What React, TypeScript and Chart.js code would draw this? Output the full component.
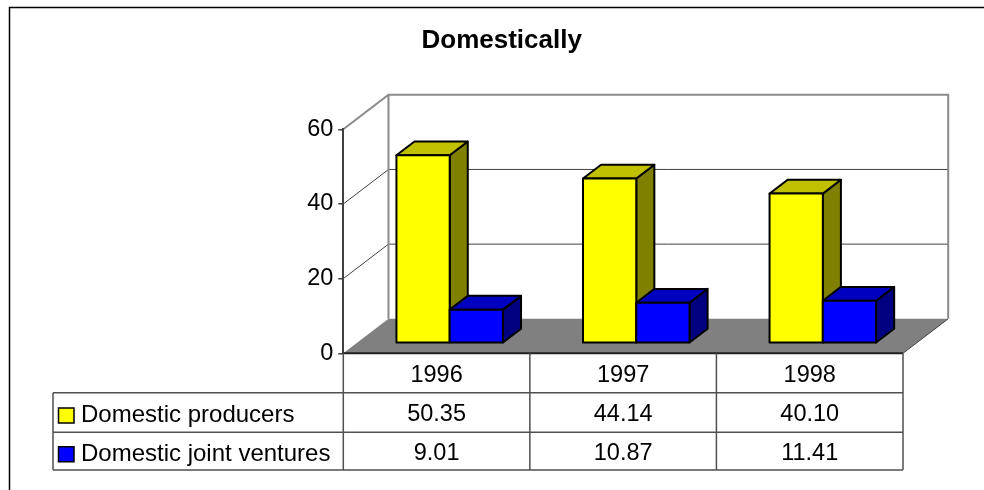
import React, { useEffect, useRef } from 'react';
import { Chart, registerables } from 'chart.js';

Chart.register(...registerables);

// ---- data ----
const categories = ['1996', '1997', '1998'];
const seriesNames = ['Domestic producers', 'Domestic joint ventures'];
const domesticProducers = [50.35, 44.14, 40.1];
const domesticJointVentures = [9.01, 10.87, 11.41];
const yMin = 0;
const yMax = 60;
const yStep = 20;
const chartTitle = 'Domestically';

// ---- styling ----
const FONT = '"Liberation Sans", Arial, Helvetica, sans-serif';
const FS = 23.5;
const faceColors = [
  { front: '#FFFF00', top: '#C0C000', side: '#808000' },
  { front: '#0000FF', top: '#0000C0', side: '#000080' },
];
const DX = 45.2; // full depth offset (x)
const DY = -34.5; // full depth offset (y)
const F0 = 0.29; // bar front depth fraction
const TH = 0.4; // bar thickness fraction
const ROW_OFF = [0, 39.4, 79, 116.7];
const LEGEND_LEFT = 53;

const scene3d = {
  id: 'scene3d',
  beforeDraw(chart: any) {
    const ctx = chart.ctx as CanvasRenderingContext2D;
    const ca = chart.chartArea;
    const ys = chart.scales.y;
    const L = ca.left, R = ca.right, B = ca.bottom;
    ctx.save();
    // outer frame
    ctx.strokeStyle = '#000';
    ctx.lineWidth = 1.5;
    ctx.strokeRect(9.5, 7.5, 1400, 900);
    // floor
    ctx.fillStyle = '#808080';
    ctx.beginPath();
    ctx.moveTo(L, B);
    ctx.lineTo(L + DX, B + DY);
    ctx.lineTo(R + DX, B + DY);
    ctx.lineTo(R, B);
    ctx.closePath();
    ctx.fill();
    ctx.strokeStyle = '#404040';
    ctx.lineWidth = 1;
    ctx.beginPath();
    ctx.moveTo(R + DX, B + DY);
    ctx.lineTo(R, B);
    ctx.stroke();
    // gridlines (side wall + back wall)
    for (const t of ys.ticks) {
      if (t.value === yMin || t.value === yMax) continue;
      const py = ys.getPixelForValue(t.value);
      ctx.strokeStyle = '#404040';
      ctx.lineWidth = 1;
      ctx.beginPath();
      ctx.moveTo(L, py);
      ctx.lineTo(L + DX, py + DY);
      ctx.lineTo(R + DX, py + DY);
      ctx.stroke();
    }
    // wall edges
    const pTop = ys.getPixelForValue(yMax);
    ctx.strokeStyle = '#8a8a8a';
    ctx.lineWidth = 2;
    ctx.beginPath();
    ctx.moveTo(L, pTop);
    ctx.lineTo(L + DX, pTop + DY);
    ctx.lineTo(R + DX, pTop + DY);
    ctx.lineTo(R + DX, B + DY);
    ctx.moveTo(L + DX, pTop + DY);
    ctx.lineTo(L + DX, B + DY);
    ctx.stroke();
    ctx.restore();
  },
  beforeDatasetsDraw(chart: any) {
    const ctx = chart.ctx as CanvasRenderingContext2D;
    const n = categories.length;
    const ox0 = F0 * DX, oy0 = F0 * DY;
    const ox = TH * DX, oy = TH * DY;
    ctx.save();
    ctx.lineWidth = 2;
    ctx.lineJoin = 'round';
    ctx.strokeStyle = '#000';
    for (let i = 0; i < n; i++) {
      for (let d = 0; d < chart.data.datasets.length; d++) {
        const el = chart.getDatasetMeta(d).data[i];
        if (!el) continue;
        const p = el.getProps(['x', 'y', 'base', 'width'], true);
        const l = p.x - p.width / 2 + ox0;
        const r = p.x + p.width / 2 + ox0;
        const t = p.y + oy0;
        const b = p.base + oy0;
        const c = faceColors[d];
        // side
        ctx.fillStyle = c.side;
        ctx.beginPath();
        ctx.moveTo(r, t);
        ctx.lineTo(r + ox, t + oy);
        ctx.lineTo(r + ox, b + oy);
        ctx.lineTo(r, b);
        ctx.closePath();
        ctx.fill();
        ctx.stroke();
        // top
        ctx.fillStyle = c.top;
        ctx.beginPath();
        ctx.moveTo(l, t);
        ctx.lineTo(r, t);
        ctx.lineTo(r + ox, t + oy);
        ctx.lineTo(l + ox, t + oy);
        ctx.closePath();
        ctx.fill();
        ctx.stroke();
        // front
        ctx.fillStyle = c.front;
        ctx.beginPath();
        ctx.rect(l, t, r - l, b - t);
        ctx.fill();
        ctx.stroke();
      }
    }
    ctx.restore();
    return false;
  },
  afterDraw(chart: any) {
    const ctx = chart.ctx as CanvasRenderingContext2D;
    const ca = chart.chartArea;
    const xs = chart.scales.x;
    const L = ca.left, R = ca.right, B = ca.bottom;
    const n = categories.length;
    const cw = (R - L) / n;
    const rows = ROW_OFF.map((o) => B + o);
    ctx.save();
    // floor front edge / table top
    ctx.strokeStyle = '#202020';
    ctx.lineWidth = 2;
    ctx.beginPath();
    ctx.moveTo(L, rows[0]);
    ctx.lineTo(R, rows[0]);
    ctx.stroke();
    ctx.strokeStyle = '#505050';
    ctx.lineWidth = 1.5;
    ctx.beginPath();
    for (let r = 1; r < rows.length; r++) {
      ctx.moveTo(LEGEND_LEFT, rows[r]);
      ctx.lineTo(R, rows[r]);
    }
    for (let k = 0; k <= n; k++) {
      const x = L + k * cw;
      ctx.moveTo(x, rows[0]);
      ctx.lineTo(x, rows[rows.length - 1]);
    }
    ctx.moveTo(LEGEND_LEFT, rows[1]);
    ctx.lineTo(LEGEND_LEFT, rows[rows.length - 1]);
    ctx.stroke();

    // values
    const series = [domesticProducers, domesticJointVentures];
    ctx.fillStyle = '#000';
    ctx.font = `${FS}px ${FONT}`;
    ctx.textAlign = 'center';
    ctx.textBaseline = 'middle';
    for (let s = 0; s < series.length; s++) {
      const cy = (rows[s + 1] + rows[s + 2]) / 2 + 2;
      for (let i = 0; i < n; i++) {
        ctx.fillText(series[s][i].toFixed(2), xs.getPixelForValue(i), cy);
      }
    }
    // legend keys
    ctx.textAlign = 'left';
    ctx.font = `24px ${FONT}`;
    for (let s = 0; s < seriesNames.length; s++) {
      const cy = (rows[s + 1] + rows[s + 2]) / 2 + 3;
      ctx.fillStyle = faceColors[s].front;
      ctx.strokeStyle = '#000';
      ctx.lineWidth = 1.5;
      ctx.beginPath();
      ctx.rect(58.5, cy - 7.5, 15.5, 15);
      ctx.fill();
      ctx.stroke();
      ctx.fillStyle = '#000';
      ctx.fillText(seriesNames[s], 81, cy);
    }
    ctx.restore();
  },
};

export default function App() {
  const canvasRef = useRef<HTMLCanvasElement | null>(null);

  useEffect(() => {
    if (!canvasRef.current) return;
    const chart = new Chart(canvasRef.current, {
      type: 'bar',
      data: {
        labels: categories,
        datasets: [
          {
            label: seriesNames[0],
            data: domesticProducers,
            backgroundColor: faceColors[0].front,
            categoryPercentage: 0.571,
            barPercentage: 1,
          },
          {
            label: seriesNames[1],
            data: domesticJointVentures,
            backgroundColor: faceColors[1].front,
            categoryPercentage: 0.571,
            barPercentage: 1,
          },
        ],
      },
      options: {
        responsive: false,
        animation: false,
        devicePixelRatio: 1,
        layout: { padding: { left: 100.4, right: 81, top: 0, bottom: 0 } },
        plugins: {
          legend: { display: false },
          tooltip: { enabled: false },
          title: {
            display: true,
            text: chartTitle,
            color: '#000',
            font: { family: FONT, size: 26, weight: 'bold' },
            padding: { top: 25.4, bottom: 72.7 },
          },
        },
        scales: {
          x: {
            type: 'category',
            grid: { display: false },
            border: { display: false },
            ticks: {
              color: '#000',
              font: { family: FONT, size: FS },
              padding: 0,
              maxRotation: 0,
              autoSkip: false,
            },
            afterFit(scale: any) {
              scale.height = 136.7;
            },
          },
          y: {
            min: yMin,
            max: yMax,
            grid: {
              drawOnChartArea: false,
              drawTicks: true,
              tickLength: 5,
              color: '#404040',
              lineWidth: 1.5,
            },
            border: { display: true, color: '#404040', width: 2 },
            ticks: {
              stepSize: yStep,
              color: '#000',
              font: { family: FONT, size: FS },
              padding: 5,
            },
            afterFit(scale: any) {
              scale.width = 242.9;
            },
          },
        },
      },
      plugins: [scene3d],
    });
    return () => chart.destroy();
  }, []);

  return (
    <div style={{ position: 'absolute', left: 0, top: 0, width: 984, height: 490, background: '#fff' }}>
      <canvas ref={canvasRef} width={984} height={490} />
    </div>
  );
}
